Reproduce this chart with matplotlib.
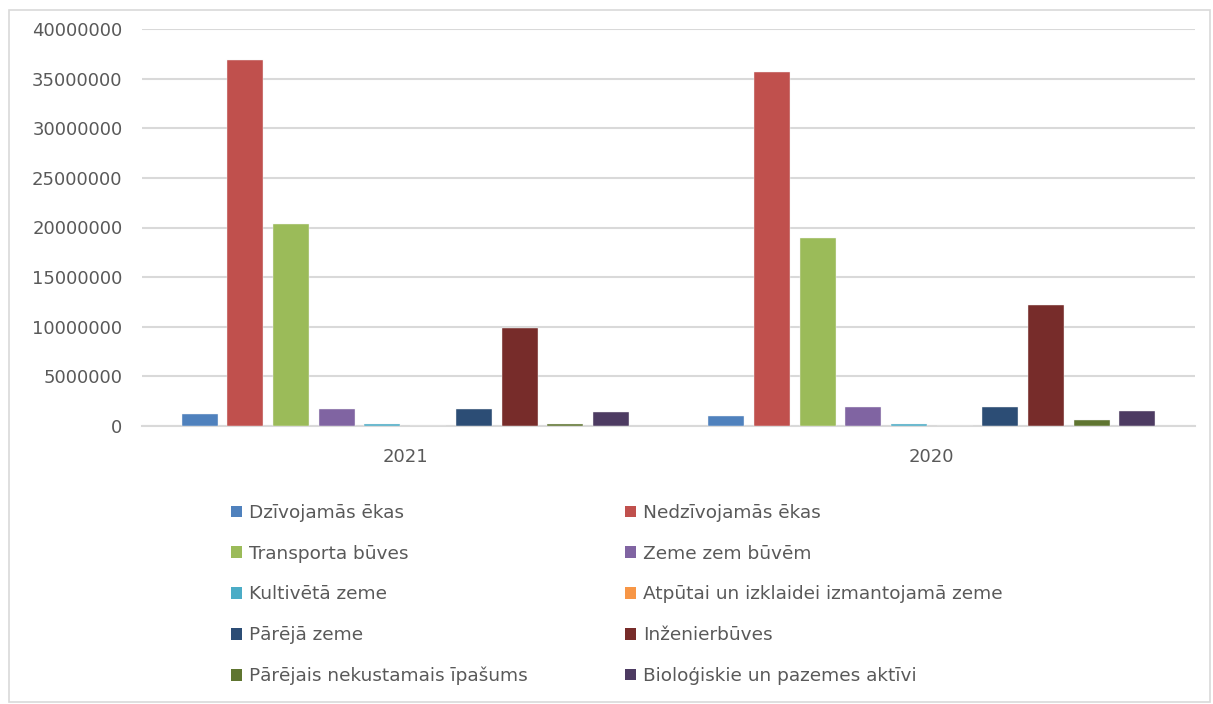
import matplotlib
matplotlib.use("Agg")
import matplotlib.pyplot as plt
from matplotlib.patches import Rectangle, Patch
import numpy as np

plt.rcParams['font.family'] = ['DejaVu Sans']

years = ["2021", "2020"]
series = [
    "Dzīvojamās ēkas",
    "Nedzīvojamās ēkas",
    "Transporta būves",
    "Zeme zem būvēm",
    "Kultivētā zeme",
    "Atpūtai un izklaidei izmantojamā zeme",
    "Pārējā zeme",
    "Inženierbūves",
    "Pārējais nekustamais īpašums",
    "Bioloģiskie un pazemes aktīvi",
]
values_2021 = [1180000, 36850000, 20350000, 1750000, 250000, 0, 1750000, 9870000, 250000, 1410000]
values_2020 = [1040000, 35670000, 18950000, 1880000, 250000, 0, 1880000, 12200000, 570000, 1510000]
colors = ["#4F81BD", "#C0504D", "#9BBB59", "#8064A2", "#4BACC6",
          "#F79646", "#2C4D75", "#772C2A", "#5F7530", "#4D3B62"]
yticks = [0, 5000000, 10000000, 15000000, 20000000, 25000000, 30000000, 35000000, 40000000]

W, H = 1213, 704
fig = plt.figure(figsize=(W / 100, H / 100), dpi=100)
fig.patches.append(Rectangle((9 / W, 2 / H), (W - 12) / W, (H - 12) / H,
                             transform=fig.transFigure, fill=False,
                             edgecolor="#d9d9d9", linewidth=1.2))

ax = fig.add_axes([142 / W, 1 - 426 / H, (1195 - 142) / W, (426 - 29) / H])

x = np.arange(len(years))
slot = 45.7 / 526.5
bw = 36 / 526.5
n = len(series)
for i, name in enumerate(series):
    vals = [values_2021[i], values_2020[i]]
    ax.bar(x + (i - (n - 1) / 2) * slot, vals, width=bw, color=colors[i],
           edgecolor="#f2f2f2", linewidth=0.3, label=name, zorder=3)

ax.set_xlim(-0.5, 1.5)
ax.set_ylim(0, 40000000)
ax.set_yticks(yticks)
ax.set_yticklabels([str(v) for v in yticks])
ax.set_xticks(x)
ax.set_xticklabels(years)
ax.grid(axis="y", color="#d9d9d9", linewidth=1.5, zorder=0)
for s in ["top", "left", "right"]:
    ax.spines[s].set_visible(False)
ax.spines["bottom"].set_color("#d9d9d9")
ax.spines["bottom"].set_linewidth(1.5)
ax.tick_params(axis="both", length=0, labelsize=13, colors="#595959")
ax.tick_params(axis="y", pad=14)
ax.tick_params(axis="x", pad=16)

handles = [Patch(facecolor=colors[i], edgecolor="none") for i in range(n)]
order = [0, 2, 4, 6, 8, 1, 3, 5, 7, 9]
leg = fig.legend([handles[i] for i in order], [series[i] for i in order],
                 ncol=2, loc="upper left", bbox_to_anchor=(231 / W, 1 - 504 / H),
                 frameon=False, fontsize=13.3, labelcolor="#595959",
                 handlelength=0.6, handleheight=0.6, handletextpad=0.35,
                 labelspacing=1.23, columnspacing=5.3, borderaxespad=0, borderpad=0)

fig.savefig("out.png", dpi=100)
